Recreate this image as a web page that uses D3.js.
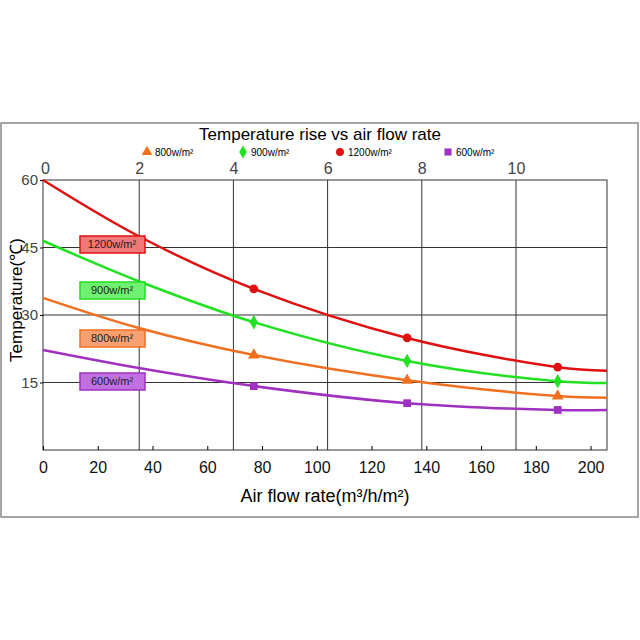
<!DOCTYPE html>
<html><head><meta charset="utf-8">
<script src="https://cdn.jsdelivr.net/npm/d3@7"></script>
<style>body{margin:0;background:#fff}text{font-family:Arial,"Liberation Sans",sans-serif}</style>
</head><body><svg id="chart" width="640" height="640"></svg>
<script>
var flow = [0, 35, 77, 133, 188, 206];
var markerIdx = [2, 3, 4];
var seriesNames = ['1200w/m²', '900w/m²', '800w/m²', '600w/m²'];
var t1200 = [60, 47.5, 35.8, 24.9, 18.4, 17.6];
var t900 = [46.5, 37.5, 28.4, 19.8, 15.3, 14.9];
var t800 = [33.8, 27.1, 21.1, 15.5, 12, 11.6];
var t600 = [22.2, 18.2, 14.2, 10.4, 8.9, 8.9];
var xTicks = [0, 20, 40, 60, 80, 100, 120, 140, 160, 180, 200];
var topTicks = [0, 2, 4, 6, 8, 10];
var yTicks = [15, 30, 45, 60];

var colors = ['#e01010', '#22e022', '#f07020', '#a030c0'];
var fills = ['#f07878', '#70f070', '#f8a070', '#c070e0'];
var shapes = [d3.symbolCircle, d3.symbolDiamond, d3.symbolTriangle, d3.symbolSquare];
var data = [t1200, t900, t800, t600];

var svg = d3.select('#chart');
var L = 43, R = 607, T = 180, B = 450;
var x = d3.scaleLinear().domain([0, 206]).range([L, R]);
var xTop = d3.scaleLinear().domain([0, 10]).range([45, 516]);
var y = d3.scaleLinear().domain([0, 60]).range([B, T]);

svg.append('rect').attr('x', 1).attr('y', 123).attr('width', 637).attr('height', 394)
  .attr('fill', 'none').attr('stroke', '#888').attr('stroke-width', 1.5);

// grid
yTicks.slice(0, 3).forEach(function(v){
  svg.append('line').attr('x1', L).attr('x2', R).attr('y1', y(v)).attr('y2', y(v)).attr('stroke', '#333');
});
topTicks.slice(1).forEach(function(v){
  svg.append('line').attr('x1', xTop(v)).attr('x2', xTop(v)).attr('y1', T).attr('y2', B).attr('stroke', '#333');
});
svg.append('rect').attr('x', L).attr('y', T).attr('width', R - L).attr('height', B - T)
  .attr('fill', 'none').attr('stroke', '#333');

// axes
var xAxis = svg.append('g').attr('transform', 'translate(0,' + B + ')')
  .call(d3.axisBottom(x).tickValues(xTicks).tickSizeInner(-4).tickSizeOuter(0).tickPadding(12));
xAxis.select('.domain').remove();
xAxis.selectAll('text').attr('font-size', 16).attr('fill', '#111');
var yAxis = svg.append('g').attr('transform', 'translate(' + L + ',0)')
  .call(d3.axisLeft(y).tickValues(yTicks).tickSize(3).tickPadding(2));
yAxis.select('.domain').remove();
yAxis.selectAll('text').attr('font-size', 15).attr('fill', '#444');
var tAxis = svg.append('g').attr('transform', 'translate(0,' + T + ')')
  .call(d3.axisTop(xTop).tickValues(topTicks).tickSize(0).tickPadding(6));
tAxis.select('.domain').remove();
tAxis.selectAll('text').attr('font-size', 16).attr('fill', '#444');

// curves
var line = d3.line().x(function(d, i){ return x(flow[i]); }).y(function(d){ return y(d); })
  .curve(d3.curveCatmullRom);
data.forEach(function(s, k){
  svg.append('path').attr('d', line(s)).attr('fill', 'none').attr('stroke', colors[k]).attr('stroke-width', 2.5);
  markerIdx.forEach(function(i){
    svg.append('path').attr('d', d3.symbol().type(shapes[k]).size(60)())
      .attr('transform', 'translate(' + x(flow[i]) + ',' + y(s[i]) + ')').attr('fill', colors[k]);
  });
});

// in-plot labels
var labY = [244, 290, 338, 381];
seriesNames.forEach(function(n, k){
  svg.append('rect').attr('x', 80).attr('y', labY[k] - 8).attr('width', 65).attr('height', 17)
    .attr('fill', fills[k]).attr('stroke', colors[k]).attr('stroke-width', 1.5);
  svg.append('text').attr('x', 112).attr('y', labY[k] + 4).attr('text-anchor', 'middle')
    .attr('font-size', 11).attr('fill', '#222').text(n);
});

// title & legend
svg.append('text').attr('x', 320).attr('y', 140).attr('text-anchor', 'middle').attr('font-size', 17).text('Temperature rise vs air flow rate');
var legOrder = [2, 1, 0, 3], legX = [147, 243, 340, 448];
legOrder.forEach(function(k, j){
  svg.append('path').attr('d', d3.symbol().type(shapes[k]).size(50)())
    .attr('transform', 'translate(' + legX[j] + ',152)').attr('fill', colors[k]);
  svg.append('text').attr('x', legX[j] + 8).attr('y', 156).attr('font-size', 10).text(seriesNames[k]);
});

svg.append('text').attr('x', 325).attr('y', 502).attr('text-anchor', 'middle').attr('font-size', 18).text('Air flow rate(m³/h/m²)');
svg.append('text').attr('transform', 'translate(22,300) rotate(-90)').attr('text-anchor', 'middle')
  .attr('font-size', 17).text('Temperature(℃)');
</script></body></html>
